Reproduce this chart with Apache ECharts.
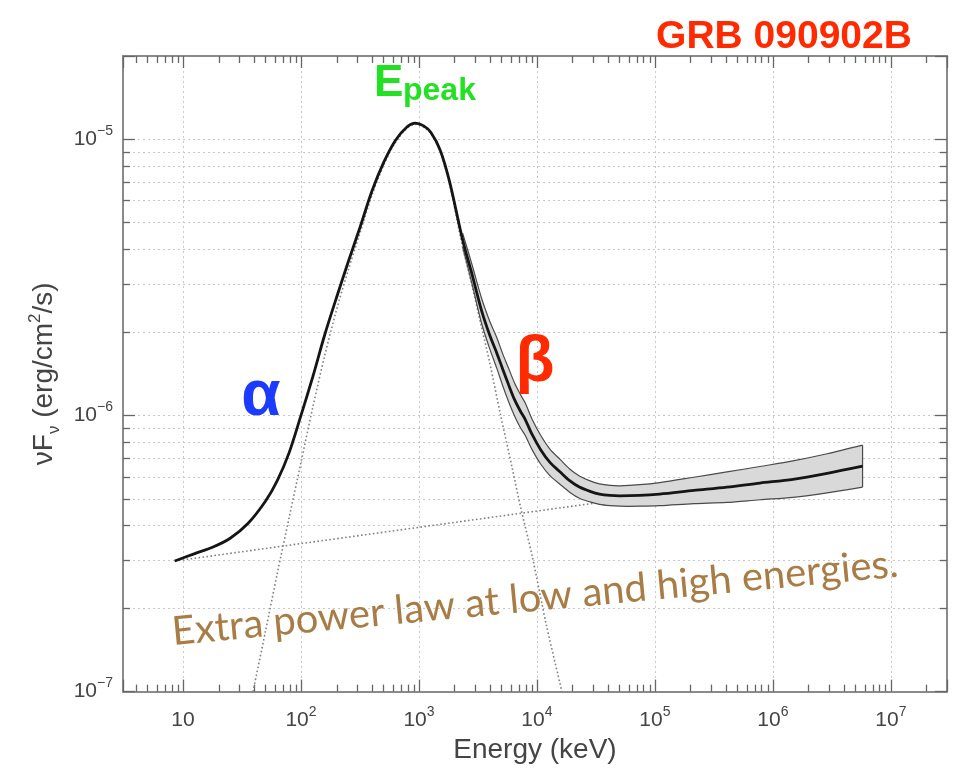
<!DOCTYPE html>
<html><head><meta charset="utf-8">
<script src="https://cdn.jsdelivr.net/npm/echarts@6/dist/echarts.min.js"></script>
<style>html,body{margin:0;padding:0;background:#fff}#c{width:958px;height:769px}</style>
</head><body><div id="c"></div><script>
// ---- data (Energy in keV, nuFnu in erg/cm^2/s) ----
const totalE = [8.51, 12.59, 17.78, 25.12, 35.48, 50.12, 63.1, 79.4, 100, 125.9, 158.5, 199.5, 251.2, 316.2, 398.1, 501.2, 631, 794.3, 933, 1096, 1259, 1514, 1820, 2344, 2818, 3388, 3981, 4571, 5129, 5754, 6457, 7244, 7943, 9120, 10715, 12882, 15849, 19055, 22909, 28184, 33884, 41687, 50119, 74131, 109648, 213796, 407380, 776247, 1479108, 2884032, 5754399];
const totalF = [2.97e-7, 3.16e-7, 3.33e-7, 3.59e-7, 4.06e-7, 4.90e-7, 5.82e-7, 7.33e-7, 1.00e-6, 1.38e-6, 1.95e-6, 2.66e-6, 3.59e-6, 4.79e-6, 6.46e-6, 8.22e-6, 9.89e-6, 1.109e-5, 1.143e-5, 1.117e-5, 1.059e-5, 9.12e-6, 7.00e-6, 4.32e-6, 3.24e-6, 2.40e-6, 1.95e-6, 1.68e-6, 1.47e-6, 1.29e-6, 1.14e-6, 1.035e-6, 9.68e-7, 8.51e-7, 7.53e-7, 6.76e-7, 6.22e-7, 5.79e-7, 5.50e-7, 5.31e-7, 5.19e-7, 5.13e-7, 5.11e-7, 5.13e-7, 5.19e-7, 5.35e-7, 5.50e-7, 5.69e-7, 5.87e-7, 6.17e-7, 6.55e-7];

const bandE = [2344, 2818, 3388, 3981, 4571, 5129, 5754, 6457, 7244, 7943, 9120, 10715, 12882, 15849, 19055, 22909, 28184, 33884, 41687, 50119, 74131, 109648, 213796, 407380, 776247, 1479108, 2884032, 5754399];
const bandUpper = [4.57e-6, 3.51e-6, 2.66e-6, 2.19e-6, 1.91e-6, 1.67e-6, 1.48e-6, 1.31e-6, 1.19e-6, 1.11e-6, 9.66e-7, 8.49e-7, 7.55e-7, 6.90e-7, 6.38e-7, 6.03e-7, 5.79e-7, 5.65e-7, 5.58e-7, 5.56e-7, 5.61e-7, 5.71e-7, 5.97e-7, 6.24e-7, 6.53e-7, 6.84e-7, 7.26e-7, 7.80e-7];
const bandLower = [4.07e-6, 2.99e-6, 2.16e-6, 1.74e-6, 1.48e-6, 1.28e-6, 1.12e-6, 9.95e-7, 9.02e-7, 8.47e-7, 7.50e-7, 6.68e-7, 6.05e-7, 5.61e-7, 5.26e-7, 5.01e-7, 4.86e-7, 4.76e-7, 4.71e-7, 4.69e-7, 4.69e-7, 4.71e-7, 4.79e-7, 4.84e-7, 4.95e-7, 5.05e-7, 5.24e-7, 5.50e-7];

const bandCompE = [39.2, 50.1, 63.1, 79.4, 100, 125.9, 158.5, 199.5, 251.2, 316.2, 398.1, 501.2, 631, 794.3, 933, 1096, 1259, 1514, 1820, 2344, 2818, 3388, 3981, 4898, 6166, 7244, 9120, 12023, 16293];
const bandCompF = [1.0e-7, 1.66e-7, 2.69e-7, 4.27e-7, 6.76e-7, 1.07e-6, 1.64e-6, 2.40e-6, 3.35e-6, 4.57e-6, 6.24e-6, 8.04e-6, 9.72e-6, 1.096e-5, 1.13e-5, 1.104e-5, 1.047e-5, 9.02e-6, 6.84e-6, 4.07e-6, 2.95e-6, 2.09e-6, 1.55e-6, 1.01e-6, 6.46e-7, 4.68e-7, 3.09e-7, 1.74e-7, 1.0e-7];

const powerLawE = [8.51, 5754399];
const powerLawF = [2.97e-7, 6.55e-7];

// ---- axis ranges ----
const X_MIN = 3.1, X_MAX = 2.99e7, Y_MIN = 1e-7, Y_MAX = 2e-5;
const xMinor = [], yMinor = [];
for (let d = 0; d <= 7; d++) for (let m = 2; m <= 9; m++) { const v = m * Math.pow(10, d); if (v > X_MIN * 1.001 && v < X_MAX * 0.999) xMinor.push(v); }
for (let d = -7; d <= -5; d++) for (let m = 2; m <= 9; m++) { const v = m * Math.pow(10, d); if (v > Y_MIN * 1.001 && v < Y_MAX * 0.999) yMinor.push(v); }

const pairs = (a, b) => a.map((v, i) => [v, b[i]]);
const FONT = '"Liberation Sans", Arial, Helvetica, sans-serif';
const labelRich = {
  b: { fontSize: 21, lineHeight: 30, color: '#444', fontFamily: FONT },
  s: { fontSize: 14, lineHeight: 14, verticalAlign: 'top', color: '#444', fontFamily: FONT }
};
function powLabel(v) {
  const l = Math.log10(v); const n = Math.round(l);
  if (Math.abs(l - n) > 1e-6) return '';
  if (n === 1) return '{b|10}';
  return '{b|10}{s|' + String(n).replace('-', '\u2212') + '}';
}

function renderDecor(params, api) {
  const cs = params.coordSys;
  const left = cs.x, right = cs.x + cs.width, top = cs.y, bottom = cs.y + cs.height;
  const ch = [];
  const grid = { stroke: '#c8c8c8', lineWidth: 1, lineDash: [2, 3] };
  const tick = { stroke: '#666', lineWidth: 1.3 };
  yMinor.forEach(v => {
    const y = Math.round(api.coord([X_MIN, v])[1]) + 0.5;
    ch.push({ type: 'line', shape: { x1: left, y1: y, x2: right, y2: y }, style: grid });
    ch.push({ type: 'line', shape: { x1: left, y1: y, x2: left + 7, y2: y }, style: tick });
    ch.push({ type: 'line', shape: { x1: right - 7, y1: y, x2: right, y2: y }, style: tick });
  });
  xMinor.forEach(v => {
    const x = Math.round(api.coord([v, Y_MIN])[0]) + 0.5;
    ch.push({ type: 'line', shape: { x1: x, y1: bottom, x2: x, y2: bottom - 7 }, style: tick });
    ch.push({ type: 'line', shape: { x1: x, y1: top, x2: x, y2: top + 7 }, style: tick });
  });
  return { type: 'group', children: ch };
}
function renderBand(params, api) {
  const up = [], lo = [];
  for (let i = 0; i < bandE.length; i++) { up.push(api.coord([bandE[i], bandUpper[i]])); lo.push(api.coord([bandE[i], bandLower[i]])); }
  const poly = up.concat(lo.slice().reverse());
  const edge = { fill: null, stroke: '#4a4a4a', lineWidth: 1.2 };
  const last = bandE.length - 1;
  return { type: 'group', children: [
    { type: 'polygon', shape: { points: poly }, style: { fill: '#d9d9d9', stroke: null } },
    { type: 'polyline', shape: { points: up, smooth: 0.3 }, style: edge },
    { type: 'polyline', shape: { points: lo, smooth: 0.3 }, style: edge },
    { type: 'line', shape: { x1: up[last][0], y1: up[last][1], x2: lo[last][0], y2: lo[last][1] }, style: edge }
  ] };
}

const axisLine = { show: true, lineStyle: { color: '#8a8a8a', width: 2 } };
const axisTick = { show: true, inside: true, length: 12, lineStyle: { color: '#666', width: 1.3 } };
const splitLine = { show: true, lineStyle: { color: '#c8c8c8', width: 1, type: [2, 3] } };

const option = {
  animation: false,
  backgroundColor: '#fff',
  grid: { left: 123, top: 56, width: 824, height: 637, show: false },
  xAxis: [
    { type: 'log', logBase: 10, position: 'bottom', min: X_MIN, max: X_MAX,
      axisLine, axisTick, splitLine,
      axisLabel: { formatter: powLabel, rich: labelRich, margin: 14 },
      name: 'Energy (keV)', nameLocation: 'middle', nameGap: 42,
      nameTextStyle: { fontSize: 28, color: '#444', fontFamily: FONT } },
    { type: 'log', logBase: 10, position: 'top', min: X_MIN, max: X_MAX,
      axisLine, axisTick, axisLabel: { show: false }, splitLine: { show: false } }
  ],
  yAxis: [
    { type: 'log', logBase: 10, position: 'left', min: Y_MIN, max: Y_MAX,
      axisLine, axisTick, splitLine,
      axisLabel: { formatter: powLabel, rich: labelRich, margin: 10 },
      name: '{a|\u03bdF}{u|\u03bd}{a| (erg/cm}{p|2}{a|/s)}', nameLocation: 'middle', nameRotate: 90, nameGap: 60,
      nameTextStyle: { rich: {
        a: { fontSize: 28, lineHeight: 36, color: '#444', fontFamily: FONT },
        u: { fontSize: 17, lineHeight: 17, verticalAlign: 'bottom', color: '#444', fontFamily: FONT },
        p: { fontSize: 17, lineHeight: 17, verticalAlign: 'top', color: '#444', fontFamily: FONT } } } },
    { type: 'log', logBase: 10, position: 'right', min: Y_MIN, max: Y_MAX,
      axisLine, axisTick, axisLabel: { show: false }, splitLine: { show: false } }
  ],
  series: [
    { type: 'custom', name: 'grid', renderItem: renderDecor, data: [[10, 1e-6]], silent: true, z: 1 },
    { type: 'line', name: 'Extra power law', data: pairs(powerLawE, powerLawF), showSymbol: false, silent: true, z: 2,
      lineStyle: { color: '#808080', width: 1.6, type: [1.6, 2.4] } },
    { type: 'line', name: 'Band', data: pairs(bandCompE, bandCompF), showSymbol: false, silent: true, z: 2, smooth: 0.3,
      lineStyle: { color: '#808080', width: 1.6, type: [1.6, 2.4] } },
    { type: 'custom', name: 'Uncertainty', renderItem: renderBand, data: [[10, 1e-6]], silent: true, z: 3 },
    { type: 'line', name: 'Total model', data: pairs(totalE, totalF), showSymbol: false, silent: true, z: 5, smooth: 0.3,
      lineStyle: { color: '#151515', width: 2.8 } }
  ],
  graphic: [
    { type: 'text', x: 784, y: 37, z: 100, style: { text: 'GRB 090902B', fill: '#ff2a00', font: 'bold 39px ' + FONT, textAlign: 'center', textVerticalAlign: 'middle' } },
    { type: 'text', x: 374, y: 84, z: 100, style: { text: 'E', fill: '#22e022', font: 'bold 44px ' + FONT, textAlign: 'left', textVerticalAlign: 'middle' } },
    { type: 'text', x: 403, y: 91, z: 100, style: { text: 'peak', fill: '#22e022', font: 'bold 32px ' + FONT, textAlign: 'left', textVerticalAlign: 'middle' } },
    { type: 'text', x: 261, y: 397, z: 100, style: { text: '\u03b1', fill: '#1b3cff', font: 'bold 64px ' + FONT, textAlign: 'center', textVerticalAlign: 'middle' } },
    { type: 'text', x: 535, y: 363, z: 100, style: { text: '\u03b2', fill: '#ff2a00', font: 'bold 64px ' + FONT, textAlign: 'center', textVerticalAlign: 'middle' } },
    { type: 'text', x: 535, y: 598, rotation: 0.094, z: 100, style: { text: 'Extra power law at low and high energies.', fill: '#a97c45', font: '40px Lato, "Open Sans", sans-serif', textAlign: 'center', textVerticalAlign: 'middle' } }
  ]
};
const chart = echarts.init(document.getElementById('c'), null, { renderer: 'canvas' });
chart.setOption(option);
</script></body></html>
